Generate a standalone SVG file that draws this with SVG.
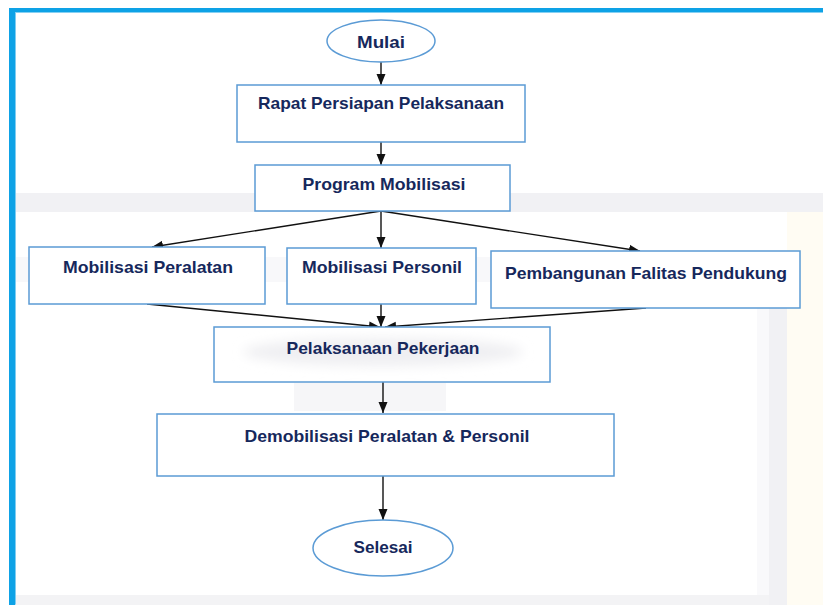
<svg xmlns="http://www.w3.org/2000/svg" width="823" height="605" viewBox="0 0 823 605">
  <style>
    .box { fill: #ffffff; stroke: #5b9bd5; stroke-width: 1.5; }
    .term { fill: #ffffff; stroke: #5b9bd5; stroke-width: 1.5; }
    .lbl { font-family: "Liberation Sans", Arial, sans-serif; font-weight: bold; font-size: 17px; fill: #16285c; text-anchor: middle; }
    .edge { fill: none; stroke: #111111; stroke-width: 1.4; marker-end: url(#arrow); }
    .wm { fill: #f1f1f4; }
  </style>
  <defs>
    <marker id="arrow" markerUnits="userSpaceOnUse" markerWidth="12" markerHeight="12" viewBox="0 0 12 12" refX="11" refY="6" orient="auto">
      <path d="M0,1.5 L11,6 L0,10.5 Z" fill="#111111"/>
    </marker>
    <filter id="soft" x="-20%" y="-50%" width="140%" height="200%">
      <feGaussianBlur stdDeviation="6"/>
    </filter>
  </defs>

  <!-- page background and faint backdrop -->
  <rect x="0" y="0" width="823" height="605" fill="#ffffff"/>
  <rect x="787" y="212" width="36" height="393" fill="#fffcf3"/>
  <rect x="769" y="283" width="18" height="322" class="wm"/>
  <rect x="757" y="288" width="12" height="317" fill="#f9f9fb"/>
  <rect x="15" y="193" width="808" height="19" class="wm"/>
  <rect x="15" y="257" width="760" height="25" fill="#f8f8fa"/>
  <rect x="15" y="595" width="754" height="10" fill="#f3f3f5"/>
  <rect x="294" y="383" width="152" height="28" fill="#f6f6f8"/>

  <!-- frame -->
  <rect x="9" y="8" width="814" height="4.5" fill="#0ea2e6"/>
  <rect x="9" y="8" width="6" height="597" fill="#0ea2e6"/>
  <rect x="15" y="12.5" width="1" height="592" fill="#7fcdf2"/>

  <!-- connectors -->
  <g id="connectors">
    <line class="edge" x1="381" y1="62" x2="381" y2="85"/>
    <line class="edge" x1="381" y1="142" x2="381" y2="165"/>
    <line class="edge" x1="381" y1="211" x2="152" y2="247"/>
    <line class="edge" x1="381" y1="211" x2="381" y2="248"/>
    <line class="edge" x1="381" y1="211" x2="640" y2="251"/>
    <line class="edge" x1="147" y1="304" x2="380" y2="327"/>
    <line class="edge" x1="381" y1="304" x2="381" y2="327"/>
    <line class="edge" x1="646" y1="308" x2="385" y2="327"/>
    <line class="edge" x1="383" y1="382" x2="383" y2="413"/>
    <line class="edge" x1="383" y1="476" x2="383" y2="520"/>
  </g>

  <g id="mulai">
    <ellipse class="term" cx="381" cy="41" rx="54" ry="21"/>
    <text class="lbl" x="381" y="48" textLength="48" lengthAdjust="spacingAndGlyphs">Mulai</text>
  </g>

  <g id="rapat">
    <rect class="box" x="237" y="85" width="288" height="57"/>
    <text class="lbl" x="381" y="109" textLength="246" lengthAdjust="spacingAndGlyphs">Rapat Persiapan Pelaksanaan</text>
  </g>

  <g id="program">
    <rect class="box" x="255" y="165" width="255" height="46"/>
    <text class="lbl" x="384" y="190" textLength="163" lengthAdjust="spacingAndGlyphs">Program Mobilisasi</text>
  </g>

  <g id="mob-peralatan">
    <rect class="box" x="29" y="247" width="236" height="57"/>
    <text class="lbl" x="148" y="273" textLength="170" lengthAdjust="spacingAndGlyphs">Mobilisasi Peralatan</text>
  </g>

  <g id="mob-personil">
    <rect class="box" x="287" y="248" width="189" height="56"/>
    <text class="lbl" x="382" y="273" textLength="160" lengthAdjust="spacingAndGlyphs">Mobilisasi Personil</text>
  </g>

  <g id="pembangunan">
    <rect class="box" x="491" y="251" width="309" height="57"/>
    <text class="lbl" x="646" y="279" textLength="282" lengthAdjust="spacingAndGlyphs">Pembangunan Falitas Pendukung</text>
  </g>

  <g id="pelaksanaan">
    <rect class="box" x="214" y="327" width="336" height="55"/>
    <ellipse cx="383" cy="352" rx="140" ry="14" fill="#efeff2" filter="url(#soft)"/>
    <text class="lbl" x="383" y="354" textLength="193" lengthAdjust="spacingAndGlyphs">Pelaksanaan Pekerjaan</text>
  </g>

  <g id="demobilisasi">
    <rect class="box" x="157" y="414" width="457" height="62"/>
    <text class="lbl" x="387" y="442" textLength="285" lengthAdjust="spacingAndGlyphs">Demobilisasi Peralatan &amp; Personil</text>
  </g>

  <g id="selesai">
    <ellipse class="term" cx="383" cy="548" rx="70" ry="28"/>
    <text class="lbl" x="383" y="553" textLength="59" lengthAdjust="spacingAndGlyphs">Selesai</text>
  </g>
</svg>
